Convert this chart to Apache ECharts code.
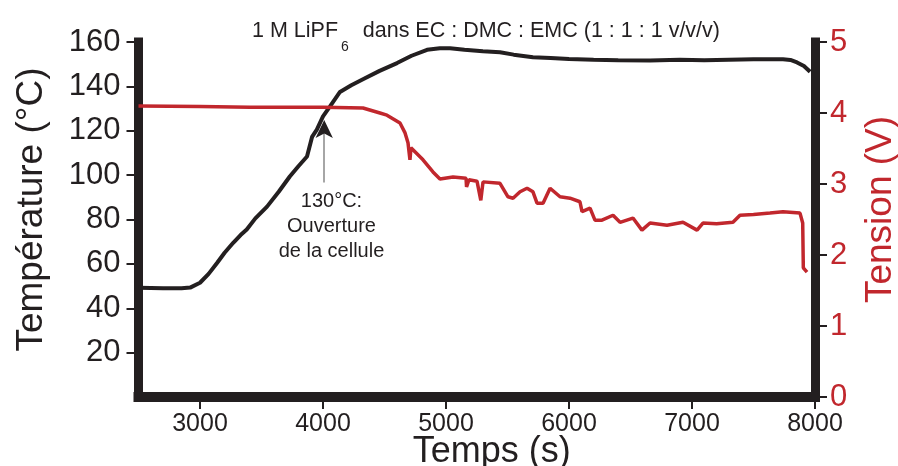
<!DOCTYPE html>
<html>
<head>
<meta charset="utf-8">
<script src="https://cdn.jsdelivr.net/npm/echarts@6/dist/echarts.min.js"></script>
<style>
html,body{margin:0;padding:0;background:#fff;}
#chart{width:898px;height:466px;}
</style>
</head>
<body>
<div id="chart"></div>
<script>
// ---- Data ----
const xTickValues = [3000, 4000, 5000, 6000, 7000, 8000];
const tempTickValues = [20, 40, 60, 80, 100, 120, 140, 160];
const voltTickValues = [0, 1, 2, 3, 4, 5];
const tempTime = [2500, 2700, 2850, 2920, 3000, 3070, 3140, 3200, 3270, 3330, 3380, 3450, 3545, 3640, 3730, 3800, 3870, 3911, 3950, 4000, 4057, 4138, 4230, 4325, 4460, 4602, 4720, 4846, 4950, 5033, 5150, 5300, 5439, 5550, 5707, 5850, 6000, 6200, 6400, 6659, 6900, 7100, 7300, 7500, 7740, 7800, 7854, 7910, 7960];
const tempValues = [49.2, 49.0, 49.0, 49.3, 51.5, 55.5, 60.5, 65, 69.5, 73, 75.5, 80.5, 85.8, 92.5, 99.4, 104, 108.4, 117.2, 120.5, 126.5, 131, 137.5, 140.5, 143.2, 147, 150.5, 153.8, 156.5, 157.2, 157.2, 156.5, 155.8, 155.4, 154.3, 153.1, 152.8, 152.3, 152.0, 151.8, 151.7, 152.0, 151.8, 152.0, 152.2, 152.2, 151.9, 150.8, 149.2, 146.6];
const voltTime = [2500, 3000, 3407, 4000, 4325, 4463, 4520, 4626, 4667, 4691, 4707, 4711, 4715, 4813, 4894, 4951, 5057, 5163, 5167, 5171, 5187, 5252, 5283, 5285, 5301, 5439, 5504, 5545, 5602, 5659, 5707, 5740, 5789, 5846, 5927, 6008, 6089, 6106, 6171, 6211, 6268, 6358, 6415, 6520, 6593, 6659, 6797, 6927, 7041, 7089, 7200, 7333, 7390, 7500, 7634, 7740, 7878, 7900, 7905, 7935];
const voltValues = [4.10, 4.09, 4.08, 4.08, 4.07, 4.00, 3.97, 3.86, 3.72, 3.58, 3.34, 3.34, 3.51, 3.34, 3.17, 3.07, 3.10, 3.08, 2.96, 2.96, 3.06, 3.04, 2.77, 2.77, 3.03, 3.01, 2.82, 2.80, 2.89, 2.94, 2.89, 2.73, 2.73, 2.94, 2.82, 2.80, 2.75, 2.61, 2.66, 2.49, 2.49, 2.56, 2.46, 2.52, 2.35, 2.45, 2.42, 2.46, 2.35, 2.45, 2.44, 2.46, 2.56, 2.57, 2.59, 2.61, 2.59, 2.45, 1.82, 1.76];

const BLACK = '#231f20';
const RED = '#c1272d';
const FONT = 'Liberation Sans, Arial, sans-serif';

const tempData = tempTime.map((t, i) => [t, tempValues[i]]);
const voltData = voltTime.map((t, i) => [t, voltValues[i]]);

const chart = echarts.init(document.getElementById('chart'), null, {renderer: 'canvas'});
chart.setOption({
  animation: false,
  backgroundColor: '#fff',
  textStyle: {fontFamily: FONT},
  title: {
    text: '{a|1 M LiPF}{s|6}{a|  dans EC : DMC : EMC (1 : 1 : 1 v/v/v)}',
    left: 481, top: 15, textAlign: 'center',
    textStyle: {
      fontWeight: 'normal',
      rich: {
        a: {fontSize: 21.5, color: BLACK, fontFamily: FONT, fontWeight: 'normal', lineHeight: 24, verticalAlign: 'top'},
        s: {fontSize: 14, color: BLACK, fontFamily: FONT, fontWeight: 'normal', lineHeight: 14, padding: [20, 2, 0, 3], verticalAlign: 'top'}
      }
    }
  },
  grid: {left: 138.5, right: 83, top: 42, bottom: 69, containLabel: false, outerBoundsMode: 'none'},
  xAxis: {
    type: 'value', min: 2500, max: 8000,
    name: 'Temps (s)', nameLocation: 'middle', nameGap: 37, nameMoveOverlap: false,
    nameTextStyle: {fontSize: 36, color: BLACK, fontFamily: FONT, padding: [0, 0, 0, 30]},
    axisLine: {show: true, onZero: false, lineStyle: {color: BLACK, width: 10, cap: 'square'}},
    axisTick: {show: true, length: 12, lineStyle: {color: BLACK, width: 2}, customValues: xTickValues},
    axisLabel: {fontSize: 25, color: BLACK, margin: 15, fontFamily: FONT, customValues: xTickValues,
      formatter: v => String(v)},
    splitLine: {show: false}
  },
  yAxis: [
    {
      type: 'value', min: 0, max: 160, interval: 20, position: 'left',
      name: 'Température (°C)', nameLocation: 'middle', nameGap: 88, nameRotate: 90, nameMoveOverlap: false,
      nameTextStyle: {fontSize: 37, color: BLACK, fontFamily: FONT, padding: [0, 0, 0, 20]},
      axisLine: {show: true, lineStyle: {color: BLACK, width: 9, cap: 'square'}},
      axisTick: {show: true, length: 12, lineStyle: {color: BLACK, width: 2}, customValues: tempTickValues},
      axisLabel: {fontSize: 31, color: BLACK, margin: 18, fontFamily: FONT, customValues: tempTickValues,
        formatter: v => String(v)},
      splitLine: {show: false}
    },
    {
      type: 'value', min: 0, max: 5, interval: 1, position: 'right',
      name: 'Tension (V)', nameLocation: 'middle', nameGap: 47, nameRotate: 90, nameMoveOverlap: false,
      nameTextStyle: {fontSize: 37, color: RED, fontFamily: FONT, padding: [0, 0, 0, 20]},
      axisLine: {show: true, lineStyle: {color: BLACK, width: 9, cap: 'square'}},
      axisTick: {show: true, length: 12, lineStyle: {color: BLACK, width: 2}, customValues: voltTickValues},
      axisLabel: {fontSize: 31, color: RED, margin: 15, fontFamily: FONT, customValues: voltTickValues,
        formatter: v => String(v)},
      splitLine: {show: false}
    }
  ],
  series: [
    {
      type: 'line', name: 'Température', yAxisIndex: 0, data: tempData,
      symbol: 'none', lineStyle: {color: BLACK, width: 4}, z: 2,
      markLine: {
        silent: true, symbol: ['none', 'none'],
        lineStyle: {color: '#888', width: 1.5, type: 'solid'},
        label: {show: false},
        data: [[{coord: [4010, 96.7]}, {coord: [4010, 121]}]]
      },
      markPoint: {
        silent: true,
        data: [
          {coord: [4010, 124.9], symbol: 'arrow', symbolSize: [13, 18], itemStyle: {color: BLACK}, label: {show: false}},
          {coord: [4069, 77], symbol: 'circle', symbolSize: 0,
           label: {show: true, position: 'inside', formatter: '130°C:\nOuverture\nde la cellule',
             fontSize: 20, lineHeight: 25, color: BLACK, align: 'center', fontFamily: FONT}}
        ]
      }
    },
    {
      type: 'line', name: 'Tension', yAxisIndex: 1, data: voltData,
      symbol: 'none', lineStyle: {color: RED, width: 3.5}, z: 3
    }
  ]
});
</script>
</body>
</html>
